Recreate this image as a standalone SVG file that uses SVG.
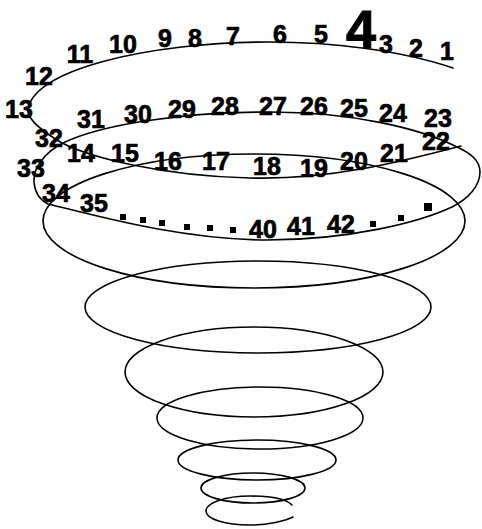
<svg xmlns="http://www.w3.org/2000/svg" width="482" height="529" viewBox="0 0 482 529">
<style>
.ln{fill:none;stroke:#000;stroke-width:1.6;stroke-linecap:round}
.n{font-family:"Liberation Sans",Arial,sans-serif;font-weight:bold;font-size:25px;fill:#000;stroke:#000;stroke-width:0.7;text-anchor:middle}
.big{font-size:54px;stroke-width:1}
.d{fill:#000}
</style>
<rect width="482" height="529" fill="#fff"/>
<g id="spiral">
<path class="ln" d="M453,68 C400,50 330,42 270,42 C150,42 28,70 28,112 C30,122 45,133 62,143 C90,157 160,176 250,178 C330,180 400,162 461,146"/>
<path class="ln" d="M480,172 C480,160 470,153 457,147 C420,128 350,112 270,112 C180,112 100,125 63,143 C45,152 33,168 34,182 C35,195 42,201 48,204 C90,214 180,240 267,240 C350,240 420,222 452,207 C468,199 480,186 480,172 Z"/>
<ellipse class="ln" cx="254" cy="221" rx="211" ry="67"/>
<ellipse class="ln" cx="258" cy="307" rx="173" ry="46"/>
<ellipse class="ln" cx="254" cy="372" rx="129" ry="45"/>
<ellipse class="ln" cx="260" cy="418" rx="103" ry="31"/>
<ellipse class="ln" cx="257" cy="460" rx="79" ry="20"/>
<ellipse class="ln" cx="253" cy="488" rx="52" ry="15"/>
<path class="ln" d="M292,505 C285,498 268,496 250,496 C225,496 206,503 206,511 C206,519 225,525 250,525 C268,525 285,521 293,517"/>
</g>
<g id="labels">
<text class="n" x="447" y="60">1</text>
<text class="n" x="416" y="57">2</text>
<text class="n" x="386" y="53">3</text>
<text class="n big" x="361" y="48">4</text>
<text class="n" x="321" y="43">5</text>
<text class="n" x="280" y="43">6</text>
<text class="n" x="233" y="45">7</text>
<text class="n" x="195" y="47">8</text>
<text class="n" x="165" y="47">9</text>
<text class="n" x="123" y="53">10</text>
<text class="n" x="80" y="63">11</text>
<text class="n" x="39" y="85">12</text>
<text class="n" x="19" y="118">13</text>
<text class="n" x="81" y="162">14</text>
<text class="n" x="125" y="162">15</text>
<text class="n" x="168" y="170">16</text>
<text class="n" x="216" y="170">17</text>
<text class="n" x="267" y="175">18</text>
<text class="n" x="314" y="177">19</text>
<text class="n" x="354" y="170">20</text>
<text class="n" x="394" y="162">21</text>
<text class="n" x="436" y="150">22</text>
<text class="n" x="438" y="127">23</text>
<text class="n" x="393" y="122">24</text>
<text class="n" x="354" y="117">25</text>
<text class="n" x="314" y="115">26</text>
<text class="n" x="273" y="115">27</text>
<text class="n" x="225" y="115">28</text>
<text class="n" x="182" y="118">29</text>
<text class="n" x="138" y="123">30</text>
<text class="n" x="91" y="128">31</text>
<text class="n" x="49" y="147">32</text>
<text class="n" x="31" y="177">33</text>
<text class="n" x="56" y="202">34</text>
<text class="n" x="94" y="212">35</text>
<text class="n" x="263" y="238">40</text>
<text class="n" x="301" y="235">41</text>
<text class="n" x="341" y="233">42</text>
</g>
<g id="dots">
<rect class="d" x="120" y="214" width="6" height="6"/>
<rect class="d" x="140" y="217" width="6" height="6"/>
<rect class="d" x="159" y="220" width="6" height="6"/>
<rect class="d" x="184" y="224" width="6" height="6"/>
<rect class="d" x="207" y="225" width="6" height="6"/>
<rect class="d" x="230" y="227" width="6" height="6"/>
<rect class="d" x="370" y="221" width="6" height="6"/>
<rect class="d" x="398" y="215" width="6" height="6"/>
<rect class="d" x="424" y="203" width="8" height="8"/>
</g>
</svg>
